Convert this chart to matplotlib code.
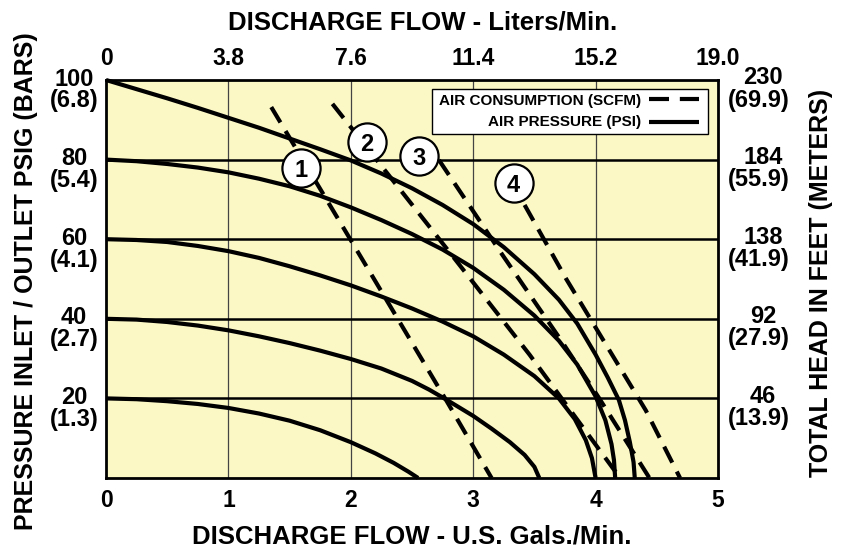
import matplotlib
matplotlib.use("Agg")
import matplotlib.pyplot as plt
from matplotlib import font_manager

# ---------------- data ----------------
gpm_ticks = [0, 1, 2, 3, 4, 5]
lpm_labels = ["0", "3.8", "7.6", "11.4", "15.2", "19.0"]
psi_ticks = [20, 40, 60, 80, 100]
bar_labels = ["(1.3)", "(2.7)", "(4.1)", "(5.4)", "(6.8)"]
feet_labels = ["46", "92", "138", "184", "230"]
meter_labels = ["(13.9)", "(27.9)", "(41.9)", "(55.9)", "(69.9)"]

# air pressure curves (PSI): flow in GPM, head in PSI
p100_x = [0, 0.25, 0.5, 0.75, 1, 1.25, 1.5, 1.75, 2, 2.25, 2.5, 2.75, 3.0, 3.25, 3.5, 3.7,
          3.85, 4.0, 4.1, 4.19, 4.24, 4.28, 4.31, 4.32]
p100_y = [100, 97.7, 95.4, 93.0, 90.5, 88.0, 85.3, 82.6, 79.8, 76.5, 72.8, 68.6, 63.8, 58.0,
          51.2, 44.8, 38.8, 31.0, 25.2, 19.6, 14.5, 9.0, 4.0, 0]
p80_x = [0, 0.25, 0.5, 0.75, 1, 1.25, 1.5, 1.75, 2, 2.25, 2.5, 2.75, 3.0, 3.25, 3.5, 3.7,
         3.85, 4.0, 4.08, 4.13, 4.15, 4.16]
p80_y = [80, 79.6, 78.9, 78.0, 76.8, 75.2, 73.3, 70.9, 68.0, 64.8, 61.3, 57.4, 52.8, 47.3,
         40.8, 34.5, 28.5, 20.5, 14.5, 8.5, 4.5, 0]
p60_x = [0, 0.25, 0.5, 0.75, 1, 1.25, 1.5, 1.75, 2, 2.25, 2.5, 2.75, 3.0, 3.25, 3.5, 3.7,
         3.83, 3.92, 3.97, 4.0]
p60_y = [60, 59.8, 59.3, 58.3, 57.0, 55.3, 53.2, 50.9, 48.4, 45.6, 42.6, 39.3, 35.6, 31.0,
         25.6, 20.0, 14.8, 9.5, 5.0, 0]
p40_x = [0, 0.25, 0.5, 0.75, 1, 1.25, 1.5, 1.75, 2, 2.25, 2.5, 2.64, 2.78, 3.0, 3.15, 3.3,
         3.42, 3.5, 3.54]
p40_y = [40, 39.8, 39.2, 38.3, 37.1, 35.6, 33.9, 32.0, 29.9, 27.5, 24.4, 22.2, 19.7, 15.6,
         12.4, 9.0, 5.8, 2.8, 0]
p20_x = [0, 0.25, 0.5, 0.75, 1, 1.25, 1.5, 1.75, 2.0, 2.2, 2.35, 2.47, 2.55]
p20_y = [20, 19.8, 19.3, 18.6, 17.6, 16.2, 14.4, 12.0, 9.0, 6.2, 3.8, 1.6, 0]

# air consumption lines (SCFM)
a1_x = [1.35, 2.18, 2.78, 3.15]
a1_y = [93.2, 50.5, 19.5, 0]
a2_x = [1.85, 2.80, 3.46, 4.20]
a2_y = [94, 57, 31, 0]
a3_x = [2.72, 3.24, 3.72, 4.03, 4.44]
a3_y = [79.9, 56, 34.5, 20, 0]
a4_x = [3.42, 3.76, 4.08, 4.41, 4.69]
a4_y = [68.6, 50, 33.75, 17, 0]

scfm_labels = ["1", "2", "3", "4"]
scfm_label_x = [1.59, 2.13, 2.56, 3.33]
scfm_label_y = [78, 84.5, 81, 74]

# ---------------- style ----------------
names = {f.name for f in font_manager.fontManager.ttflist}
FONT = "Liberation Sans" if "Liberation Sans" in names else "DejaVu Sans"
plt.rcParams["font.family"] = [FONT, "DejaVu Sans"]
plt.rcParams["font.weight"] = "bold"

YELLOW = "#FCF8C6"
W, H = 847, 548
fig = plt.figure(figsize=(W / 100, H / 100), dpi=100)
fig.patch.set_facecolor("white")
L, R, T, B = 106, 718, 80, 478
ax = fig.add_axes([L / W, (H - B) / H, (R - L) / W, (B - T) / H])
ax.set_facecolor(YELLOW)
ax.set_xlim(0, 5)
ax.set_ylim(0, 100)

for s in ax.spines.values():
    s.set_linewidth(2.0)
    s.set_color("black")

# grid
for gx in gpm_ticks[1:-1]:
    ax.axvline(gx, color="#444444", lw=0.9, zorder=1)
for gy in psi_ticks[:-1]:
    ax.axhline(gy, color="black", lw=1.8, zorder=1)

LW = 3.0
for xs, ys in [(p100_x, p100_y), (p80_x, p80_y), (p60_x, p60_y), (p40_x, p40_y), (p20_x, p20_y)]:
    ax.plot(xs, ys, color="black", lw=LW, solid_capstyle="butt", solid_joinstyle="round",
            zorder=3, clip_on=False)

DASH = (4.3, 2.4)
for xs, ys in [(a1_x, a1_y), (a2_x, a2_y), (a3_x, a3_y), (a4_x, a4_y)]:
    ax.plot(xs, ys, color="black", lw=LW, dashes=DASH, dash_capstyle="butt", zorder=3)

# circled labels
ax.plot(scfm_label_x, scfm_label_y, "o", ms=27.5, mfc="white", mec="black", mew=1.6,
        ls="none", zorder=5)
for lab, x, y in zip(scfm_labels, scfm_label_x, scfm_label_y):
    ax.text(x, y, lab, ha="center", va="center_baseline", fontsize=17, fontweight="bold", zorder=6)

# bottom ticks
TICKFS = 16.5
ax.set_xticks(gpm_ticks)
ax.set_xticklabels([str(v) for v in gpm_ticks], fontsize=TICKFS, fontweight="bold")
ax.tick_params(axis="x", length=0, pad=8)
ax.set_yticks([])

# top ticks
top = ax.secondary_xaxis("top")
top.set_xticks(gpm_ticks)
top.set_xticklabels(lpm_labels, fontsize=TICKFS, fontweight="bold")
top.tick_params(axis="x", length=0, pad=7)
for s in top.spines.values():
    s.set_visible(False)

# left / right two-line tick labels
ytr = ax.get_yaxis_transform()
YFS = 17
for v, b in zip(psi_ticks, bar_labels):
    ax.annotate(str(v), xy=(0, v), xycoords=ytr, xytext=(-32, 1), textcoords="offset pixels",
                ha="center", va="center", fontsize=YFS, fontweight="bold", annotation_clip=False)
    ax.annotate(b, xy=(0, v), xycoords=ytr, xytext=(-32, -21), textcoords="offset pixels",
                ha="center", va="center", fontsize=YFS, fontweight="bold", annotation_clip=False)
for v, f, m in zip(psi_ticks, feet_labels, meter_labels):
    ax.annotate(f, xy=(1, v), xycoords=ytr, xytext=(45, 2), textcoords="offset pixels",
                ha="center", va="center", fontsize=YFS, fontweight="bold", annotation_clip=False)
    ax.annotate(m, xy=(1, v), xycoords=ytr, xytext=(41, -20), textcoords="offset pixels",
                ha="center", va="center", fontsize=YFS, fontweight="bold", annotation_clip=False)

# axis titles
fig.text(423 / W, 1 - 23 / H, "DISCHARGE FLOW - Liters/Min.", ha="center", va="center",
         fontsize=18.5, fontweight="bold")
fig.text(412 / W, 1 - 537 / H, "DISCHARGE FLOW - U.S. Gals./Min.", ha="center", va="center",
         fontsize=18.5, fontweight="bold")
fig.text(26 / W, 1 - 281 / H, "PRESSURE INLET / OUTLET PSIG (BARS)", ha="center", va="center",
         rotation=90, fontsize=18, fontweight="bold")
fig.text(821 / W, 1 - 283 / H, "TOTAL HEAD IN FEET (METERS)", ha="center", va="center",
         rotation=90, fontsize=18, fontweight="bold")

# legend box (axes fraction)
def fx(px):
    return (px - L) / (R - L)

def fy(py):
    return (B - py) / (B - T)

ax.add_patch(plt.Rectangle((fx(432), fy(134)), fx(708) - fx(432), fy(89) - fy(134),
                           transform=ax.transAxes, facecolor="white", edgecolor="black",
                           lw=1.0, zorder=7))
ax.text(fx(641), fy(101), "AIR CONSUMPTION (SCFM)", transform=ax.transAxes, ha="right",
        va="center", fontsize=11, fontweight="bold", zorder=8)
ax.text(fx(641), fy(122), "AIR PRESSURE (PSI)", transform=ax.transAxes, ha="right",
        va="center", fontsize=11, fontweight="bold", zorder=8)
ax.plot([fx(649), fx(699)], [fy(99), fy(99)], transform=ax.transAxes, color="black", lw=LW,
        dashes=(4.8, 2.6), zorder=8)
ax.plot([fx(649), fx(699)], [fy(122), fy(122)], transform=ax.transAxes, color="black", lw=LW,
        solid_capstyle="butt", zorder=8)

fig.savefig("out.png", dpi=100, facecolor="white")
